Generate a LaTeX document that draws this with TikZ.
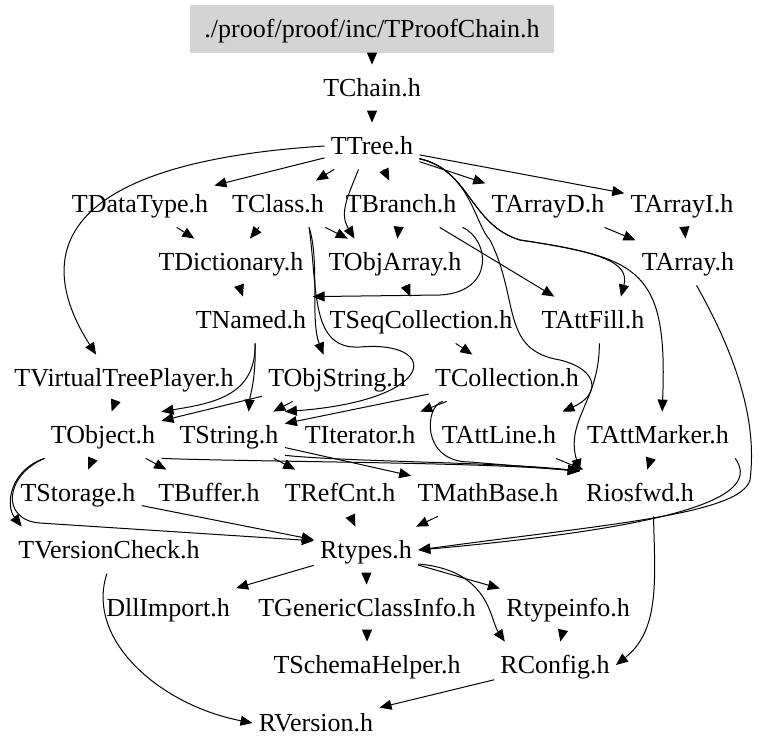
\documentclass[tikz,border=0pt]{standalone}
\usepackage{fontspec}
\setmainfont{Liberation Serif}
\usetikzlibrary{arrows.meta}
\definecolor{pLight}{gray}{0.83}
\tikzset{
    hdr/.style={inner xsep=3pt, inner ysep=0pt, minimum height=23pt, text height=9.6pt, text depth=1.3pt, font=\fontsize{13}{15}\selectfont},
    srcbox/.style={hdr, fill=pLight, minimum width=182pt, minimum height=24pt},
    dep/.style={-{Triangle[length=6pt,width=5pt]}, line width=0.5pt}
}

\begin{document}
\begin{tikzpicture}[x=0.5pt,y=-0.5pt]
\useasboundingbox (0,0) rectangle (779,755);
\node[srcbox] (proof) at (372, 29) {./proof/proof/inc/TProofChain.h};
\node[hdr] (tchain) at (372, 88) {TChain.h};
\node[hdr] (ttree) at (372,146) {TTree.h};
\node[hdr] (tdatatype) at (140,204) {TDataType.h};
\node[hdr] (tclass) at (278,204) {TClass.h};
\node[hdr] (tbranch) at (401,204) {TBranch.h};
\node[hdr] (tarrayd) at (548,204) {TArrayD.h};
\node[hdr] (tarrayi) at (682,204) {TArrayI.h};
\node[hdr] (tdictionary) at (231,262) {TDictionary.h};
\node[hdr] (tobjarray) at (395,262) {TObjArray.h};
\node[hdr] (tarray) at (688,262) {TArray.h};
\node[hdr] (tnamed) at (251,320) {TNamed.h};
\node[hdr] (tseqcoll) at (421,320) {TSeqCollection.h};
\node[hdr] (tattfill) at (593,320) {TAttFill.h};
\node[hdr] (tvirtual) at (124,378) {TVirtualTreePlayer.h};
\node[hdr] (tobjstring) at (337,378) {TObjString.h};
\node[hdr] (tcollection) at (507,378) {TCollection.h};
\node[hdr] (tobject) at (103,435) {TObject.h};
\node[hdr] (tstring) at (229,435) {TString.h};
\node[hdr] (titerator) at (360,435) {TIterator.h};
\node[hdr] (tattline) at (499,435) {TAttLine.h};
\node[hdr] (tattmarker) at (658,435) {TAttMarker.h};
\node[hdr] (tstorage) at ( 78,493) {TStorage.h};
\node[hdr] (tbuffer) at (209,493) {TBuffer.h};
\node[hdr] (trefcnt) at (340,493) {TRefCnt.h};
\node[hdr] (tmathbase) at (488,493) {TMathBase.h};
\node[hdr] (riosfwd) at (640,493) {Riosfwd.h};
\node[hdr] (tversion) at (109,550) {TVersionCheck.h};
\node[hdr] (rtypes) at (366,550) {Rtypes.h};
\node[hdr] (dllimport) at (168,608) {DllImport.h};
\node[hdr] (tgeneric) at (367,608) {TGenericClassInfo.h};
\node[hdr] (rtypeinfo) at (568,608) {Rtypeinfo.h};
\node[hdr] (tschema) at (367,665) {TSchemaHelper.h};
\node[hdr] (rconfig) at (555,665) {RConfig.h};
\node[hdr] (rversion) at (316,723) {RVersion.h};
% top part
\draw[dep] (proof) -- (tchain);
\draw[dep] (tchain) -- (ttree);
\draw[dep] (ttree) -- (tdatatype);
\draw[dep] (ttree) -- (tclass);
\draw[dep] (ttree) -- (tbranch);
\draw[dep] (ttree) -- (tarrayd);
\draw[dep] (ttree) -- (tarrayi);
\draw[dep] (ttree.-120) .. controls +(-12,30) and +(-15,-25) .. (tobjarray.150);
\draw[dep] (ttree.west) .. controls (25,165) and (45,275) .. (tvirtual.140);
\draw[dep] (ttree.-15) .. controls (470,170) and (470,225) .. (520,240) .. controls (600,252) and (630,262) .. (tattfill.40);
\draw[dep] (ttree.-15) .. controls (470,170) and (470,225) .. (520,240) .. controls (640,258) and (668,270) .. (tattmarker.80);
\draw[dep] (ttree.-15) .. controls (470,170) and (475,225) .. (490,240) .. controls (520,300) and (500,350) .. (560,360) .. controls (600,370) and (600,395) .. (tattline.north east);
\draw[dep] (tdatatype) -- (tdictionary);
\draw[dep] (tclass) -- (tdictionary);
\draw[dep] (tclass) -- (tobjarray);
\draw[dep] (tclass.-37) .. controls (320,260) and (310,320) .. (tobjstring.120);
\draw[dep] (tclass.-37) .. controls (318,290) and (310,350) .. (360,347) .. controls (440,340) and (440,400) .. (tstring.north east);
\draw[dep] (tbranch) -- (tobjarray);
\draw[dep] (tbranch.south east) .. controls (490,240) and (495,292) .. (440,295) -- (tnamed.north east);
\draw[dep] (tbranch) -- (tattfill);
\draw[dep] (tarrayd) -- (tarray);
\draw[dep] (tarrayi) -- (tarray);
% middle part
\draw[dep] (tdictionary) -- (tnamed);
\draw[dep] (tobjarray) -- (tseqcoll);
\draw[dep] (tseqcoll) -- (tcollection);
\draw[dep] (tnamed.-80) .. controls (256,395) and (215,403) .. (tobject.north east);
\draw[dep] (tnamed.-80) .. controls (256,380) and (250,395) .. (tstring.50);
\draw[dep] (tvirtual) -- (tobject);
\draw[dep] (tobjstring) -- (tobject);
\draw[dep] (tobjstring) -- (tstring);
\draw[dep] (tcollection) -- (tstring);
\draw[dep] (tcollection) -- (titerator);
\draw[dep] (tcollection.-160) .. controls (425,405) and (420,462) .. (470,462) -- (riosfwd.160);
\draw[dep] (tattline) -- (riosfwd);
\draw[dep] (tattfill.-75) .. controls (600,400) and (565,420) .. (riosfwd.160);
\draw[dep] (tattmarker) -- (riosfwd);
\draw[dep] (tattmarker.south east) .. controls +(25,35) and +(280,-25) .. (rtypes.east);
\draw[dep] (tarray.-70) .. controls (750,380) and (755,440) .. (750,480) .. controls (740,515) and (600,525) .. (rtypes.east);
% lower part
\draw[dep] (tobject) -- (tstorage);
\draw[dep] (tobject) -- (tbuffer);
\draw[dep] (tobject.south west) .. controls (10,470) and (5,505) .. (tversion.165);
\draw[dep] (tobject.south west) .. controls (5,475) and (0,520) .. (40,523) -- (rtypes.170);
\draw[dep] (tobject.south east) .. controls (260,462) and (480,462) .. (riosfwd.160);
\draw[dep] (tstring) -- (trefcnt);
\draw[dep] (tstring) -- (tmathbase);
\draw[dep] (tstring.-20) .. controls (350,462) and (500,462) .. (riosfwd.160);
\draw[dep] (tstorage) -- (rtypes);
\draw[dep] (trefcnt) -- (rtypes);
\draw[dep] (tmathbase) -- (rtypes);
\draw[dep] (riosfwd.-60) .. controls (655,580) and (660,630) .. (rconfig.east);
\draw[dep] (rtypes) -- (dllimport);
\draw[dep] (rtypes) -- (tgeneric);
\draw[dep] (rtypes) -- (rtypeinfo);
\draw[dep] (rtypes.-15) .. controls (490,570) and (490,620) .. (rconfig.155);
\draw[dep] (tgeneric) -- (tschema);
\draw[dep] (rtypeinfo) -- (rconfig);
\draw[dep] (tversion.-95) .. controls (85,640) and (160,705) .. (rversion.west);
\draw[dep] (rconfig) -- (rversion);
\end{tikzpicture}
\end{document}
